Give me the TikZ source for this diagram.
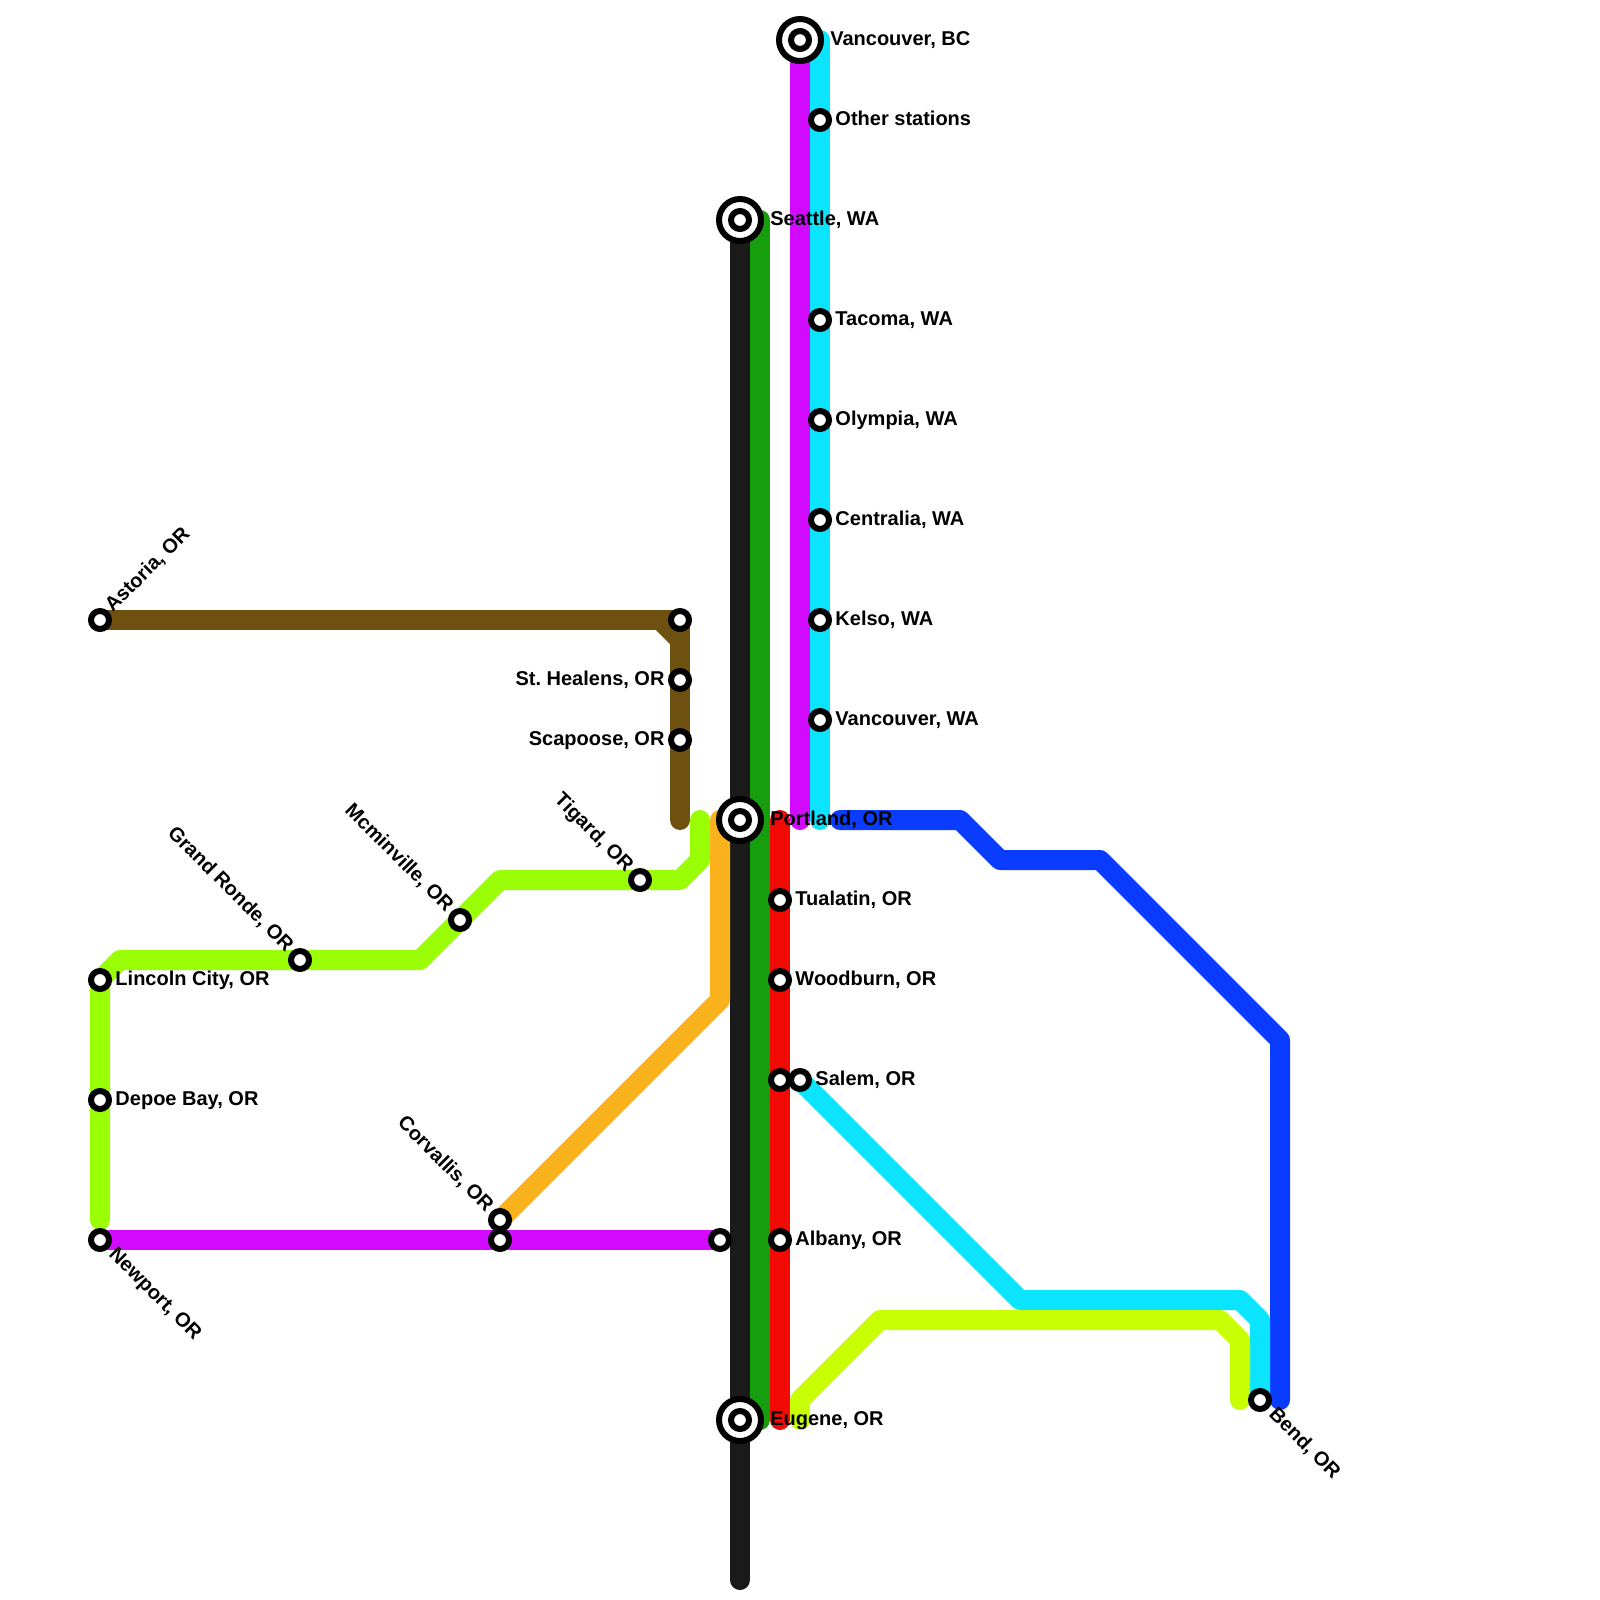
\documentclass[tikz,border=0pt]{standalone}
\usepackage{fontspec}
\setmainfont{Liberation Sans}
\usepackage{tikz}
\usetikzlibrary{backgrounds}
\definecolor{lineblack}{HTML}{1A1A1A}
\definecolor{linegreen}{HTML}{169E0F}
\definecolor{linered}{HTML}{F40A05}
\definecolor{linepurple}{HTML}{D20AFF}
\definecolor{linecyan}{HTML}{0AE4FF}
\definecolor{lineblue}{HTML}{0A3CFF}
\definecolor{linebrown}{HTML}{6E5010}
\definecolor{linelime}{HTML}{9AFF05}
\definecolor{lineorange}{HTML}{F9B21C}
\definecolor{lineyellow}{HTML}{C8FF05}
\frenchspacing

\begin{document}
\begin{tikzpicture}[x=0.5cm, y=-0.5cm,
  font=\fontsize{14.23}{16}\selectfont\bfseries,
  trk/.style={line width=0.5cm, line cap=round, line join=round},
  stop/.style={circle, draw=black, fill=white, line width=0.15cm, minimum size=0.45cm, inner sep=0pt},
  hub/.style={circle, draw=black, fill=white, line width=0.15cm, minimum size=1.05cm, inner sep=0pt},
  lblr/.style={anchor=base west, inner sep=0pt, xshift=0.38cm, yshift=-0.14cm},
  lblhub/.style={anchor=base west, inner sep=0pt, xshift=0.75cm, yshift=-0.14cm},
  lbll/.style={anchor=base east, inner sep=0pt, xshift=-0.38cm, yshift=-0.14cm},
  lblup/.style={anchor=base west, inner sep=0pt, xshift=0.32cm, yshift=0.175cm, rotate=45},
  lbldn/.style={anchor=base west, inner sep=0pt, xshift=0.2cm, yshift=-0.38cm, rotate=-45},
  lblback/.style={anchor=base east, inner sep=0pt, xshift=-0.355cm, yshift=0.175cm, rotate=-45}]
\useasboundingbox (0,0) rectangle (80,80);
% ---- north-south trunk ----
\node[hub] (vancbcring) at (40,2) {};
\node[stop] (vancbc) at (vancbcring) {};
\node[lblhub] (vancbclab) at (vancbc) {Vancouver, BC};
\node[stop] (other) at (41,6) {};
\node[lblr] (otherlab) at (other) {Other stations};
\node[hub] (seattlering) at (37,11) {};
\node[stop] (seattle) at (seattlering) {};
\node[lblhub] (seattlelab) at (seattle) {Seattle, WA};
\node[stop] (tacoma) at (41,16) {};
\node[lblr] (tacomalab) at (tacoma) {Tacoma, WA};
\node[stop] (olympia) at (41,21) {};
\node[lblr] (olympialab) at (olympia) {Olympia, WA};
\node[stop] (centralia) at (41,26) {};
\node[lblr] (centralialab) at (centralia) {Centralia, WA};
\node[stop] (kelso) at (41,31) {};
\node[lblr] (kelsolab) at (kelso) {Kelso, WA};
\node[stop] (vancwa) at (41,36) {};
\node[lblr] (vancwalab) at (vancwa) {Vancouver, WA};
\node[hub] (portlandring) at (37,41) {};
\node[stop] (portland) at (portlandring) {};
\node[lblhub] (portlandlab) at (portland) {Portland, OR};
\node[stop] (tualatin) at (39,45) {};
\node[lblr] (tualatinlab) at (tualatin) {Tualatin, OR};
\node[stop] (woodburn) at (39,49) {};
\node[lblr] (woodburnlab) at (woodburn) {Woodburn, OR};
\node[stop] (salemw) at (39,54) {};
\node[stop] (salem) at (40,54) {};
\node[lblr] (salemlab) at (salem) {Salem, OR};
\node[stop] (albany) at (39,62) {};
\node[lblr] (albanylab) at (albany) {Albany, OR};
\node[hub] (eugenering) at (37,71) {};
\node[stop] (eugene) at (eugenering) {};
\node[lblhub] (eugenelab) at (eugene) {Eugene, OR};
\node[stop] (bend) at (63,70) {};
\node[lbldn] (bendlab) at (bend) {Bend, OR};
% ---- coast branches ----
\node[stop] (astoria) at (5,31) {};
\node[lblup] (astorialab) at (astoria) {Astoria, OR};
\node[stop] (brownjct) at (34,31) {};
\node[stop] (sthealens) at (34,34) {};
\node[lbll] (sthealenslab) at (sthealens) {St. Healens, OR};
\node[stop] (scapoose) at (34,37) {};
\node[lbll] (scapooselab) at (scapoose) {Scapoose, OR};
\node[stop] (tigard) at (32,44) {};
\node[lblback] (tigardlab) at (tigard) {Tigard, OR};
\node[stop] (mcminnville) at (23,46) {};
\node[lblback] (mcminnvillelab) at (mcminnville) {Mcminville, OR};
\node[stop] (grandronde) at (15,48) {};
\node[lblback] (grandrondelab) at (grandronde) {Grand Ronde, OR};
\node[stop] (lincoln) at (5,49) {};
\node[lblr] (lincolnlab) at (lincoln) {Lincoln City, OR};
\node[stop] (depoe) at (5,55) {};
\node[lblr] (depoelab) at (depoe) {Depoe Bay, OR};
\node[stop] (corvallis) at (25,61) {};
\node[lblback] (corvallislab) at (corvallis) {Corvallis, OR};
\node[stop] (corvalliss) at (25,62) {};
\node[stop] (newport) at (5,62) {};
\node[lbldn] (newportlab) at (newport) {Newport, OR};
\node[stop] (purpleend) at (36,62) {};
% ---- free line ends ----
\coordinate (blackend) at (37,79);
\coordinate (greentop) at (38,11);
\coordinate (greenend) at (38,71);
\coordinate (redtop) at (39,41);
\coordinate (redend) at (39,71);
\coordinate (purpletop) at (40,41);
\coordinate (cyantop) at (41,2);
\coordinate (cyanend) at (41,41);
\coordinate (bluetop) at (42,41);
\coordinate (blueend) at (64,70);
\coordinate (yellowtop) at (40,71);
\coordinate (yellowend) at (62,70);
\coordinate (brownend) at (34,41);
\coordinate (limetop) at (35,41);
\coordinate (limeend) at (5,61);
\coordinate (orangetop) at (36,41);
% ---- lines, under the stations ----
\begin{pgfonlayer}{background}
\draw[trk, lineblack] (seattle.center) -- (blackend);
\draw[trk, linegreen] (greentop) -- (greenend);
\draw[trk, linered] (redtop) -- (redend);
\draw[trk, linepurple] (vancbc.center) -- (purpletop);
\draw[trk, linecyan] (cyantop) -- (cyanend);
\draw[trk, lineblue] (bluetop) -- (48,41) -- (50,43) -- (55,43) -- (64,52) -- (blueend);
\draw[trk, linecyan] (salem.center) -- (51,65) -- (62,65) -- (63,66) -- (bend.center);
\draw[trk, lineyellow] (yellowtop) -- (40,70) -- (44,66) -- (61,66) -- (62,67) -- (yellowend);
\draw[trk, linebrown] (astoria.center) -- (brownjct.center) -- (brownend);
\draw[trk, linebrown] (33,31) -- (34,32);
\draw[trk, linelime] (limetop) -- (35,43) -- (34,44) -- (25,44) -- (21,48) -- (6,48) -- (5,49) -- (limeend);
\draw[trk, lineorange] (orangetop) -- (36,50) -- (corvallis.center);
\draw[trk, linepurple] (newport.center) -- (purpleend.center);
\end{pgfonlayer}
\end{tikzpicture}
\end{document}
